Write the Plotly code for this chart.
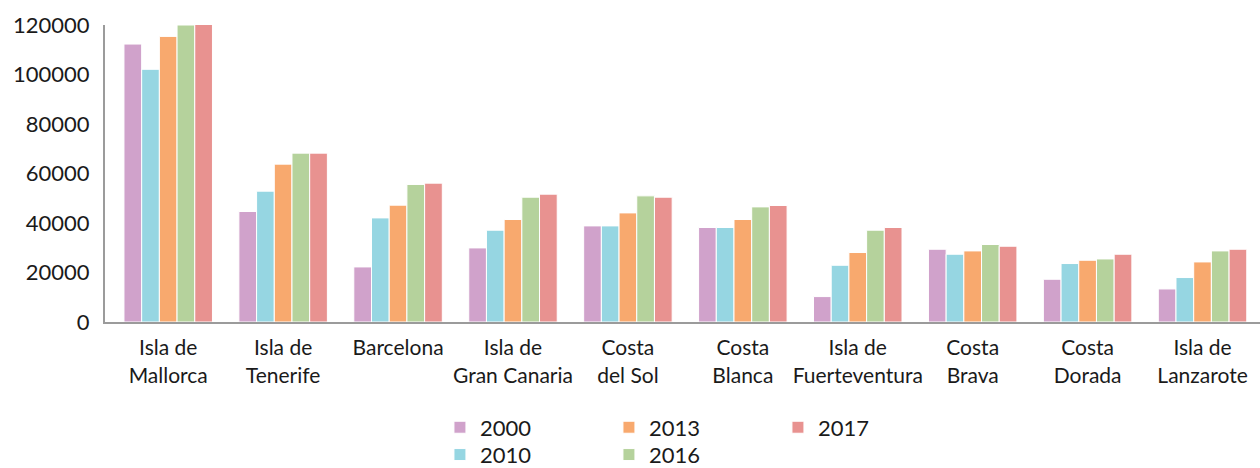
import plotly.graph_objects as go

categories = ["Isla de<br>Mallorca", "Isla de<br>Tenerife", "Barcelona", "Isla de<br>Gran Canaria",
              "Costa<br>del Sol", "Costa<br>Blanca", "Isla de<br>Fuerteventura", "Costa<br>Brava",
              "Costa<br>Dorada", "Isla de<br>Lanzarote"]

v2000 = [112300, 44650, 22250, 29930, 38830, 38180, 10270, 29400, 17270, 13350]
v2010 = [102100, 52860, 42060, 37090, 38830, 38180, 22930, 27380, 23620, 17960]
v2013 = [115400, 63780, 47200, 41410, 44080, 41410, 28070, 28720, 24950, 24270]
v2016 = [120000, 68230, 55570, 50430, 50960, 46510, 37090, 31300, 25480, 28720]
v2017 = [120200, 68230, 56100, 51650, 50430, 47080, 38180, 30620, 27380, 29400]

series = [
    ("2000", v2000, "#D0A2CB", "legend"),
    ("2010", v2010, "#96D6E2", "legend2"),
    ("2013", v2013, "#F8A96E", "legend"),
    ("2016", v2016, "#B5D29C", "legend2"),
    ("2017", v2017, "#E89290", "legend"),
]

FONT = "Lato, 'Open Sans', sans-serif"
TXT = "#1a1a1a"

fig = go.Figure()
for name, vals, color, leg in series:
    fig.add_trace(go.Bar(
        x=categories, y=vals, name=name,
        marker=dict(color=color, line=dict(color="white", width=1)),
        legend=leg,
    ))

legend_common = dict(
    orientation="h", xanchor="left", yanchor="middle",
    font=dict(family=FONT, size=22, color=TXT),
    entrywidth=124, entrywidthmode="pixels",
    bgcolor="rgba(0,0,0,0)", itemwidth=30,
)

fig.update_layout(
    width=1260, height=468,
    margin=dict(l=105, r=0, t=25, b=146, autoexpand=False),
    paper_bgcolor="white", plot_bgcolor="white",
    barmode="group", bargap=0.23, bargroupgap=0,
    font=dict(family=FONT, size=22, color=TXT),
    legend=dict(x=0.29, y=-0.355, **legend_common),
    legend2=dict(x=0.29, y=-0.447, **legend_common),
    xaxis=dict(
        showline=True, linecolor="#9b9b9b", linewidth=2,
        showgrid=False, ticks="", tickangle=0, automargin=False,
        range=[-0.55, 9.5], ticklabelstandoff=6,
        tickfont=dict(family=FONT, size=21, color=TXT),
    ),
    yaxis=dict(
        showline=True, linecolor="#9b9b9b", linewidth=2,
        showgrid=False, zeroline=False, ticks="", automargin=False,
        range=[0, 120000], tickvals=[0, 20000, 40000, 60000, 80000, 100000, 120000],
        tickformat="d", ticklabelstandoff=9,
        tickfont=dict(family=FONT, size=22, color=TXT),
    ),
)

fig.write_html(
    "out.html",
    config={"displayModeBar": False},
    post_script="document.body.style.margin='0';document.body.style.overflow='hidden';",
)
